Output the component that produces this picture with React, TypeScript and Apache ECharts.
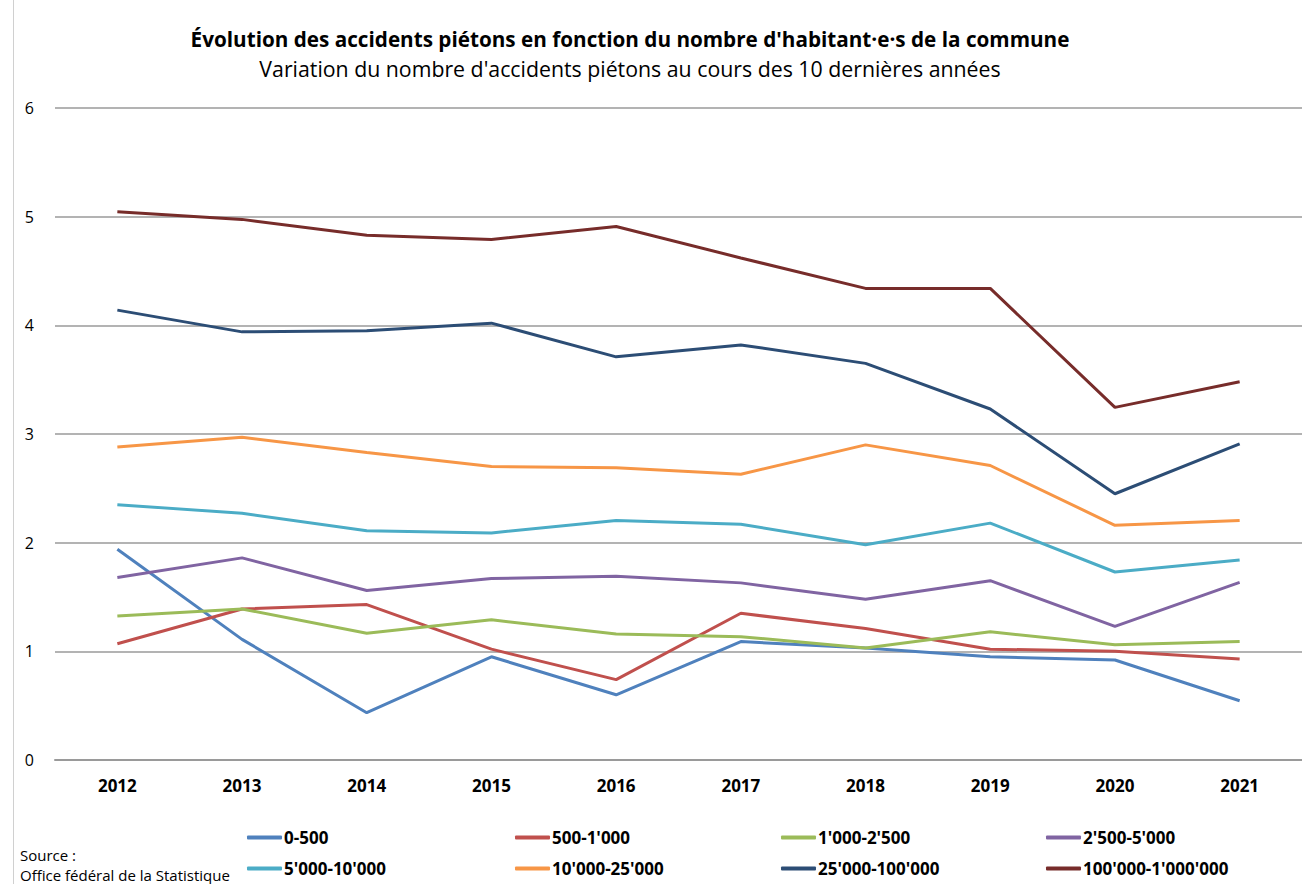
import React, { useEffect, useRef } from "react";
import * as echarts from "echarts";

const years = ["2012", "2013", "2014", "2015", "2016", "2017", "2018", "2019", "2020", "2021"];
const seriesNames = [
  "0-500",
  "500-1'000",
  "1'000-2'500",
  "2'500-5'000",
  "5'000-10'000",
  "10'000-25'000",
  "25'000-100'000",
  "100'000-1'000'000",
];
const s0_500 = [1.94, 1.11, 0.435, 0.95, 0.6, 1.09, 1.03, 0.95, 0.92, 0.545];
const s500_1000 = [1.07, 1.39, 1.43, 1.02, 0.74, 1.35, 1.21, 1.02, 1.0, 0.93];
const s1000_2500 = [1.325, 1.39, 1.166, 1.29, 1.16, 1.135, 1.03, 1.18, 1.06, 1.09];
const s2500_5000 = [1.68, 1.86, 1.56, 1.67, 1.69, 1.63, 1.48, 1.65, 1.23, 1.635];
const s5000_10000 = [2.35, 2.27, 2.11, 2.09, 2.205, 2.17, 1.98, 2.18, 1.73, 1.84];
const s10000_25000 = [2.88, 2.97, 2.83, 2.7, 2.69, 2.63, 2.9, 2.71, 2.16, 2.205];
const s25000_100000 = [4.14, 3.94, 3.95, 4.02, 3.71, 3.82, 3.65, 3.23, 2.45, 2.91];
const s100000_1000000 = [5.045, 4.975, 4.83, 4.79, 4.91, 4.62, 4.34, 4.34, 3.245, 3.48];
const allValues = [s0_500, s500_1000, s1000_2500, s2500_5000, s5000_10000, s10000_25000, s25000_100000, s100000_1000000];
const colors = ["#4F81BD", "#C0504D", "#9BBB59", "#8064A2", "#4BACC6", "#F79646", "#2C4D75", "#772C2A"];
const yTicks = [0, 1, 2, 3, 4, 5, 6];

const FONT = "'Open Sans', sans-serif";

export default function App() {
  const ref = useRef<HTMLDivElement>(null);
  useEffect(() => {
    if (!ref.current) return;
    const chart = echarts.init(ref.current, null, { renderer: "svg" });
    const legendCols = [247, 515, 781, 1046];
    const legends = legendCols.map((left, i) => ({
      orient: "vertical",
      left,
      top: 829,
      padding: 0,
      itemGap: 14,
      itemWidth: 35,
      itemHeight: 4,
      icon: "roundRect",
      data: [seriesNames[i], seriesNames[i + 4]],
      textStyle: { fontFamily: FONT, fontSize: 17, fontWeight: "bold", color: "#000", padding: [0, 0, 0, -3] },
    }));
    chart.setOption({
      animation: false,
      backgroundColor: "#fff",
      title: [
        {
          text: "Évolution des accidents piétons en fonction du nombre d'habitant·e·s de la commune",
          left: 630,
          textAlign: "center",
          top: 28,
          padding: 0,
          textStyle: { fontFamily: FONT, fontSize: 20.7, fontWeight: "bold", color: "#000" },
        },
        {
          text: "Variation du nombre d'accidents piétons au cours des 10 dernières années",
          left: 630,
          textAlign: "center",
          top: 58,
          padding: 0,
          textStyle: { fontFamily: FONT, fontSize: 21.3, fontWeight: "normal", color: "#000" },
        },
      ],
      legend: legends,
      grid: { left: 55, right: 0, top: 108, bottom: 124, containLabel: false },
      xAxis: {
        type: "category",
        data: years,
        boundaryGap: true,
        axisLine: { show: true, lineStyle: { color: "#9a9a9a", width: 2 } },
        axisTick: { show: false },
        axisLabel: { fontFamily: FONT, fontSize: 17, fontWeight: "bold", color: "#000", margin: 17 },
      },
      yAxis: {
        type: "value",
        min: yTicks[0],
        max: yTicks[yTicks.length - 1],
        interval: 1,
        axisLine: { show: false },
        axisTick: { show: false },
        splitLine: { show: true, lineStyle: { color: "#b3b3b3", width: 2 } },
        axisLabel: { fontFamily: FONT, fontSize: 16, color: "#000", margin: 21 },
      },
      series: allValues.map((vals, i) => ({
        name: seriesNames[i],
        type: "line",
        data: vals,
        color: colors[i],
        symbol: "none",
        lineStyle: { width: 3, color: colors[i] },
      })),
      graphic: [
        { type: "line", shape: { x1: 13.5, y1: 0, x2: 13.5, y2: 884 }, style: { stroke: "#d0d0d0", lineWidth: 1 } },
        {
          type: "text",
          left: 20,
          top: 847,
          style: { text: "Source :", fontFamily: FONT, fontSize: 15, fill: "#000" },
        },
        {
          type: "text",
          left: 20,
          top: 867,
          style: { text: "Office fédéral de la Statistique", fontFamily: FONT, fontSize: 15, fill: "#000" },
        },
      ],
    });
    return () => chart.dispose();
  }, []);
  return <div ref={ref} style={{ width: 1302, height: 884, position: "absolute", left: 0, top: 0 }} />;
}
